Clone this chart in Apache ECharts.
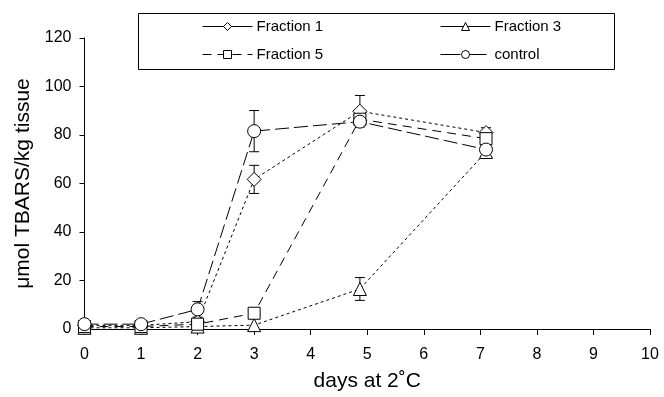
<!DOCTYPE html>
<html>
<head>
<meta charset="utf-8">
<script src="https://cdn.jsdelivr.net/npm/echarts@6/dist/echarts.min.js"></script>
<style>
  html, body { margin: 0; padding: 0; background: #fff; }
  #main { width: 664px; height: 397px; }
</style>
</head>
<body>
<div id="main"></div>
<script>
// days of storage
var days = [0, 1, 2, 3, 4.87, 7.1];

// TBARS values
var fraction1 = [1.5, 1.5, 3, 61.7, 89.8, 81];
var fraction3 = [0.5, 0.5, 1, 1.6, 16.5, 73];
var fraction5 = [1, 1, 2, 6.5, 86.5, 78.5];
var control = [2, 2, 8.1, 81.6, 85.5, 74];

// +/- error
var fraction1Err = [0.8, 0.8, 0, 5.8, 6.5, 2];
var fraction3Err = [0, 0, 0, 0, 4.7, 0];
var fraction5Err = [0, 0, 1.5, 0, 1, 1];
var controlErr = [0.8, 0.8, 3.2, 8.5, 1, 1];

var xTicks = [0, 1, 2, 3, 4, 5, 6, 7, 8, 9, 10];
var yTicks = [0, 20, 40, 60, 80, 100, 120];

var font = 'Liberation Sans, Arial, sans-serif';

function pts(vals) {
	return days.map(function (d, i) { return [d, vals[i]]; });
}

function errData(vals, errs) {
	var out = [];
	days.forEach(function (d, i) {
		if (errs[i] > 0) out.push([d, vals[i] - errs[i], vals[i] + errs[i]]);
	});
	return out;
}

function renderErr(params, api) {
	var x = api.value(0);
	var lo = api.coord([x, api.value(1)]);
	var hi = api.coord([x, api.value(2)]);
	var w = 5;
	var st = { stroke: '#000', lineWidth: 1 };
	return {
		type: 'group',
		children: [
			{ type: 'line', shape: { x1: lo[0], y1: lo[1], x2: hi[0], y2: hi[1] }, style: st },
			{ type: 'line', shape: { x1: lo[0] - w, y1: lo[1], x2: lo[0] + w, y2: lo[1] }, style: st },
			{ type: 'line', shape: { x1: hi[0] - w, y1: hi[1], x2: hi[0] + w, y2: hi[1] }, style: st }
		]
	};
}

function lineSeries(name, vals, symbol, size, dash) {
	return {
		name: name,
		type: 'line',
		data: pts(vals),
		symbol: symbol,
		symbolSize: size,
		showAllSymbol: true,
		clip: false,
		z: 3,
		lineStyle: { color: '#000', width: 1, type: dash },
		itemStyle: { color: '#fff', borderColor: '#000', borderWidth: 1 }
	};
}

function errSeries(vals, errs) {
	return {
		type: 'custom',
		renderItem: renderErr,
		data: errData(vals, errs),
		clip: false,
		z: 2,
		silent: true
	};
}

var legendText = { fontFamily: font, fontSize: 15, color: '#000', padding: [0, 0, 0, -1] };

var myChart = echarts.init(document.getElementById('main'));
myChart.setOption({
	animation: false,
	textStyle: { fontFamily: font },
	grid: { left: 84.5, right: 14, top: 38, bottom: 67 },
	graphic: [{
		type: 'rect',
		shape: { x: 138.5, y: 13.5, width: 476, height: 56 },
		style: { fill: '#fff', stroke: '#000', lineWidth: 1 },
		z: 0
	}],
	legend: [{
		left: 197,
		top: 14,
		orient: 'vertical',
		itemWidth: 50,
		itemHeight: 10,
		itemGap: 13,
		textStyle: legendText,
		data: [
			{ name: 'Fraction 1', lineStyle: { type: 'solid', width: 1 }, itemStyle: { borderWidth: 1 } },
			{ name: 'Fraction 5', lineStyle: { type: [9, 6], width: 1 }, itemStyle: { borderWidth: 1 } }
		]
	}, {
		left: 435,
		top: 14,
		orient: 'vertical',
		itemWidth: 50,
		itemHeight: 10,
		itemGap: 13,
		textStyle: legendText,
		data: [
			{ name: 'Fraction 3', lineStyle: { type: 'solid', width: 1 }, itemStyle: { borderWidth: 1 } },
			{ name: 'control', lineStyle: { type: [20, 6], width: 1 }, itemStyle: { borderWidth: 1 } }
		]
	}],
	xAxis: {
		type: 'value',
		min: xTicks[0],
		max: xTicks[xTicks.length - 1],
		interval: 1,
		name: 'days at 2˚C',
		nameLocation: 'middle',
		nameGap: 42,
		nameTextStyle: { fontFamily: font, fontSize: 21, color: '#000' },
		axisLine: { lineStyle: { color: '#000', width: 1 } },
		axisTick: { inside: false, length: 6, lineStyle: { color: '#000' } },
		axisLabel: { color: '#000', fontSize: 16, margin: 18 },
		splitLine: { show: false }
	},
	yAxis: {
		type: 'value',
		min: yTicks[0],
		max: yTicks[yTicks.length - 1],
		interval: 20,
		name: 'μmol TBARS/kg tissue',
		nameLocation: 'middle',
		nameGap: 46,
		nameTextStyle: { fontFamily: font, fontSize: 21, color: '#000' },
		axisLine: { show: true, lineStyle: { color: '#000', width: 1 } },
		axisTick: { show: true, inside: false, length: 5, lineStyle: { color: '#000' } },
		axisLabel: { color: '#000', fontSize: 16, margin: 13 },
		splitLine: { show: false }
	},
	series: [
		errSeries(fraction1, fraction1Err),
		errSeries(fraction3, fraction3Err),
		errSeries(fraction5, fraction5Err),
		errSeries(control, controlErr),
		lineSeries('Fraction 1', fraction1, 'diamond', 14, [3, 3]),
		lineSeries('Fraction 3', fraction3, 'triangle', 13, [3, 3]),
		lineSeries('Fraction 5', fraction5, 'rect', 12, [9, 6]),
		lineSeries('control', control, 'circle', 13, [14, 5])
	]
});
</script>
</body>
</html>
